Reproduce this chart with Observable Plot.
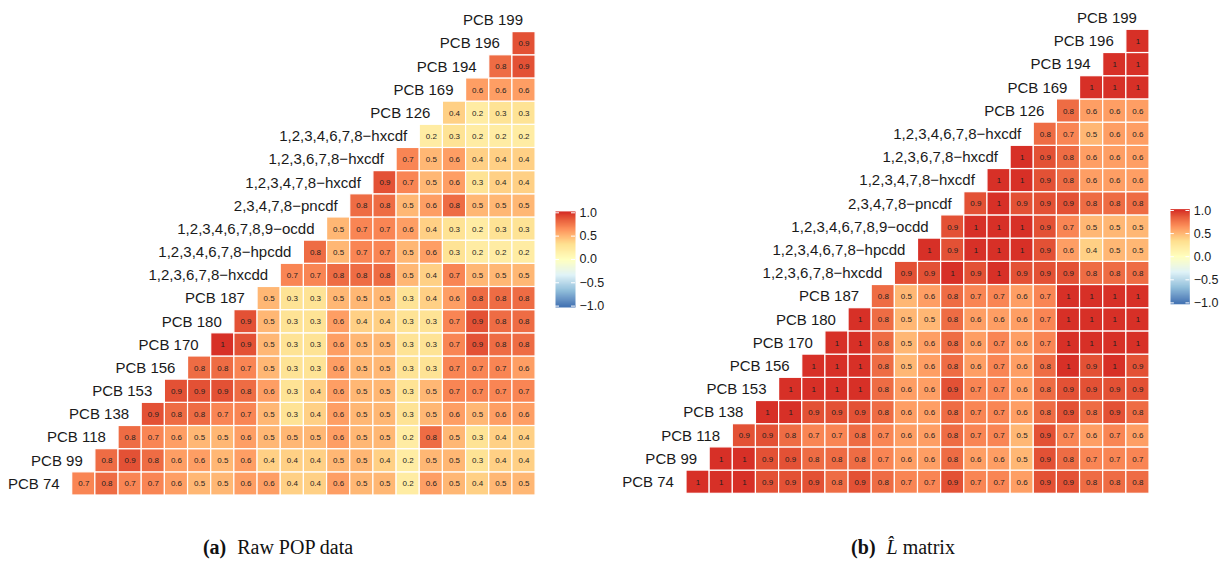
<!DOCTYPE html>
<html><head><meta charset="utf-8">
<script src="https://cdn.jsdelivr.net/npm/d3@7"></script>
<script src="https://cdn.jsdelivr.net/npm/@observablehq/plot@0.6"></script>
<style>
body{margin:0;background:#fff;width:1225px;height:565px;overflow:hidden;position:relative;font-family:"Liberation Sans",Arial,sans-serif}
.abs{position:absolute}
.cap{position:absolute;font-family:"Liberation Serif","DejaVu Serif",serif;font-size:20px;color:#111;white-space:nowrap;transform:translateX(-50%)}
.cap b{margin-right:11px}
</style></head><body>
<div id="pa" class="abs" style="left:0;top:0"></div>
<div id="pb" class="abs" style="left:615px;top:0"></div>
<div id="la" class="abs" style="left:548px;top:200px"></div>
<div id="lb" class="abs" style="left:1163px;top:198px"></div>
<div class="cap" style="left:278px;top:536px"><b>(a)</b>Raw POP data</div>
<div class="cap" style="left:903px;top:536px"><b>(b)</b><i>L̂</i> matrix</div>
<script>
// Variables (bottom to top / left to right)
const variables = ["PCB 74","PCB 99","PCB 118","PCB 138","PCB 153","PCB 156","PCB 170","PCB 180","PCB 187",
  "1,2,3,6,7,8−hxcdd","1,2,3,4,6,7,8−hpcdd","1,2,3,4,6,7,8,9−ocdd","2,3,4,7,8−pncdf","1,2,3,4,7,8−hxcdf",
  "1,2,3,6,7,8−hxcdf","1,2,3,4,6,7,8−hxcdf","PCB 126","PCB 169","PCB 194","PCB 196","PCB 199"];

// (a) Raw POP data: row i holds correlations of variable i with variables i+1 .. 20
const rawRows = [
  [0.7,0.8,0.7,0.7,0.6,0.5,0.5,0.6,0.6,0.4,0.4,0.6,0.5,0.5,0.2,0.6,0.5,0.4,0.5,0.5],
  [0.8,0.9,0.8,0.6,0.6,0.5,0.6,0.4,0.4,0.4,0.5,0.5,0.4,0.2,0.5,0.5,0.3,0.4,0.4],
  [0.8,0.7,0.6,0.5,0.5,0.6,0.5,0.5,0.5,0.6,0.5,0.5,0.2,0.8,0.5,0.3,0.4,0.4],
  [0.9,0.8,0.8,0.7,0.7,0.5,0.3,0.4,0.6,0.5,0.5,0.3,0.5,0.6,0.5,0.6,0.6],
  [0.9,0.9,0.9,0.8,0.6,0.3,0.4,0.6,0.5,0.5,0.3,0.5,0.7,0.7,0.7,0.7],
  [0.8,0.8,0.7,0.5,0.3,0.3,0.6,0.5,0.5,0.3,0.3,0.7,0.7,0.7,0.6],
  [1,0.9,0.5,0.3,0.3,0.6,0.5,0.5,0.3,0.3,0.7,0.9,0.8,0.8],
  [0.9,0.5,0.3,0.3,0.6,0.4,0.4,0.3,0.3,0.7,0.9,0.8,0.8],
  [0.5,0.3,0.3,0.5,0.5,0.5,0.3,0.4,0.6,0.8,0.8,0.8],
  [0.7,0.7,0.8,0.8,0.8,0.5,0.4,0.7,0.5,0.5,0.5],
  [0.8,0.5,0.7,0.7,0.5,0.6,0.3,0.2,0.2,0.2],
  [0.5,0.7,0.7,0.6,0.4,0.3,0.2,0.3,0.3],
  [0.8,0.8,0.5,0.6,0.8,0.5,0.5,0.5],
  [0.9,0.7,0.5,0.6,0.3,0.4,0.4],
  [0.7,0.5,0.6,0.4,0.4,0.4],
  [0.2,0.3,0.2,0.2,0.2],
  [0.4,0.2,0.3,0.3],
  [0.6,0.6,0.6],
  [0.8,0.9],
  [0.9]
];

// (b) L-hat matrix
const lhatRows = [
  [1,1,1,0.9,0.9,0.9,0.8,0.9,0.8,0.7,0.7,0.9,0.7,0.7,0.6,0.9,0.9,0.8,0.8,0.8],
  [1,1,0.9,0.9,0.8,0.8,0.8,0.7,0.6,0.6,0.8,0.6,0.6,0.5,0.9,0.8,0.7,0.7,0.7],
  [0.9,0.9,0.8,0.7,0.7,0.8,0.7,0.6,0.6,0.8,0.7,0.7,0.5,0.9,0.7,0.6,0.7,0.6],
  [1,1,0.9,0.9,0.9,0.8,0.6,0.6,0.8,0.7,0.7,0.6,0.8,0.9,0.8,0.9,0.8],
  [1,1,1,1,0.8,0.6,0.6,0.9,0.7,0.7,0.6,0.8,0.9,0.9,0.9,0.9],
  [1,1,1,0.8,0.5,0.6,0.8,0.6,0.7,0.6,0.8,1,0.9,1,0.9],
  [1,1,0.8,0.5,0.6,0.8,0.6,0.7,0.6,0.7,1,1,1,1],
  [1,0.8,0.5,0.5,0.8,0.6,0.6,0.6,0.7,1,1,1,1],
  [0.8,0.5,0.6,0.8,0.7,0.7,0.6,0.7,1,1,1,1],
  [0.9,0.9,1,0.9,1,0.9,0.9,0.9,0.8,0.8,0.8],
  [1,0.9,1,1,1,0.9,0.6,0.4,0.5,0.5],
  [0.9,1,1,1,0.9,0.7,0.5,0.5,0.5],
  [0.9,1,0.9,0.9,0.9,0.8,0.8,0.8],
  [1,1,0.9,0.8,0.6,0.6,0.6],
  [1,0.9,0.8,0.6,0.6,0.6],
  [0.8,0.7,0.5,0.6,0.6],
  [0.8,0.6,0.6,0.6],
  [1,1,1],
  [1,1],
  [1]
];

const legendTicks = [-1,-0.5,0,0.5,1];
const colorStops = [-1,-2/3,-1/3,0,1/3,2/3,1];
const colorRange = ["#4575b4","#91bfdb","#e0f3f8","#ffffbf","#fee090","#fc8d59","#d73027"];

function cellsOf(rows){
  const out = [];
  rows.forEach((r,i)=>r.forEach((v,k)=>out.push({row:i,col:i+1+k,v})));
  return out;
}
const colorOpt = {type:"linear",domain:colorStops,range:colorRange,interpolate:"lab"};
const font = "'Liberation Sans', Arial, sans-serif";

function panel(rows, xr, yr){
  const cells = cellsOf(rows);
  return Plot.plot({
    width:560,height:505,margin:0,
    style:{fontFamily:font,background:"transparent"},
    x:{domain:[0,21],range:xr,axis:null},
    y:{domain:[0,21],range:yr,axis:null},
    color:colorOpt,
    marks:[
      Plot.rect(cells,{x1:"col",x2:d=>d.col+1,y1:"row",y2:d=>d.row+1,fill:"v",stroke:"white",strokeWidth:1.2}),
      Plot.text(cells,{x:d=>d.col+0.5,y:d=>d.row+0.5,text:d=>String(d.v),fontSize:8,fill:"#1f1f1f"}),
      Plot.text(variables,{x:(d,i)=>i+0.5,y:(d,i)=>i+0.5,text:d=>d,textAnchor:"end",dx:-1,fontSize:15,fill:"#1a1a1a"})
    ]
  });
}

function legend(xr, yr){
  const fmt = d3.format(".1f");
  return Plot.plot({
    width:62,height:115,margin:0,
    style:{fontFamily:font,background:"transparent"},
    x:{domain:[0,1],range:xr,axis:null},
    y:{domain:[-1,1],range:yr,axis:null},
    color:colorOpt,
    marks:[
      Plot.raster({x1:0,x2:1,y1:-1.03,y2:1.03,width:2,height:200,fill:(x,y)=>Math.max(-1,Math.min(1,y)),imageRendering:"auto"}),
      Plot.ruleY(legendTicks,{x1:0,x2:0.2,stroke:"white",strokeWidth:1}),
      Plot.ruleY(legendTicks,{x1:0.8,x2:1,stroke:"white",strokeWidth:1}),
      Plot.text(legendTicks,{x:1,y:d=>d,text:d=>fmt(d),textAnchor:"start",dx:4,fontSize:12.5,fill:"#1a1a1a"})
    ]
  });
}

document.getElementById("pa").append(panel(rawRows,[48.53,535.1],[495,8.43]));
document.getElementById("pb").append(panel(lhatRows,[47.85,534],[493.3,6.1]));
document.getElementById("la").append(legend([7,27],[105.6,12.3]));
document.getElementById("lb").append(legend([7,26.3],[104.4,12]));
</script>
</body></html>
